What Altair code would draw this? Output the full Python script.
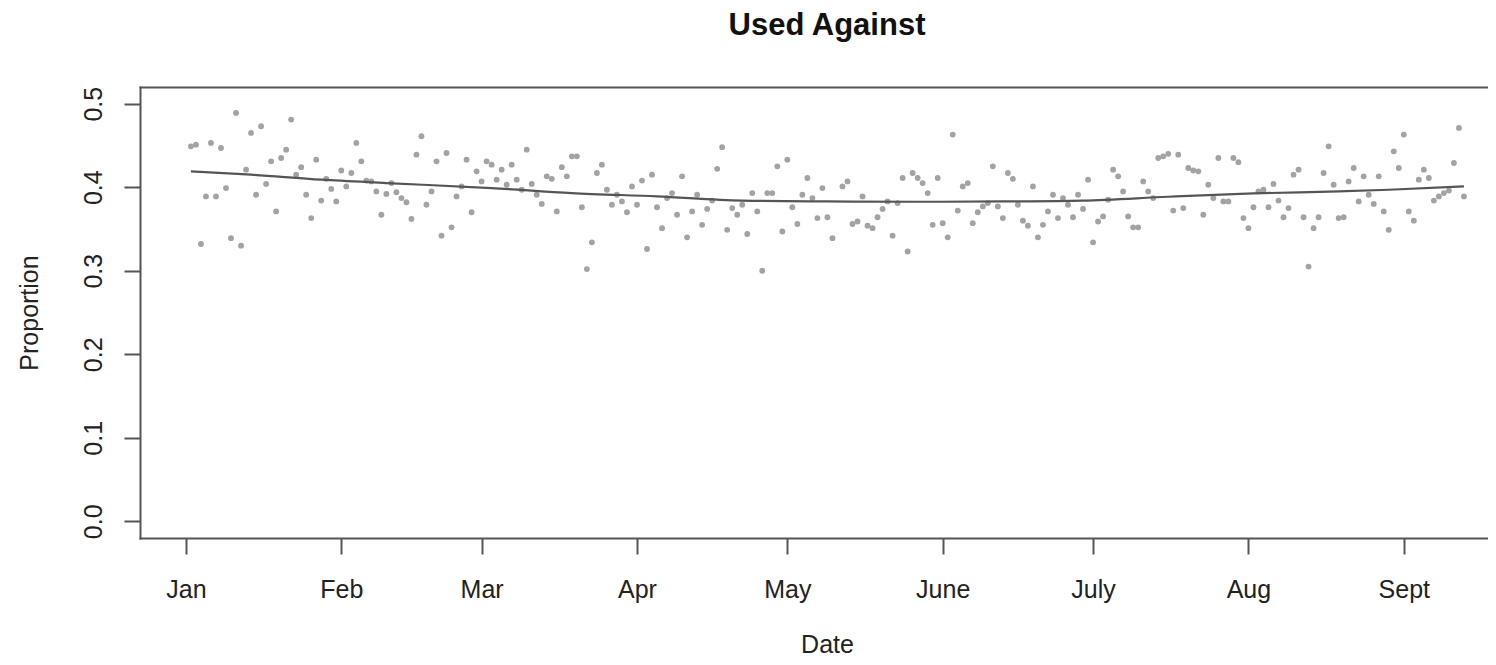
import altair as alt
import pandas as pd

# Days since Jan 1 (0 = Jan 1) and daily proportion
days = [1, 2, 3, 4, 5, 6, 7, 8, 9, 10, 11, 12, 13, 14, 15, 16, 17, 18, 19, 20,
        21, 22, 23, 24, 25, 26, 27, 28, 29, 30, 31, 32, 33, 34, 35, 36, 37, 38, 39, 40,
        41, 42, 43, 44, 45, 46, 47, 48, 49, 50, 51, 52, 53, 54, 55, 56, 57, 58, 59, 60,
        61, 62, 63, 64, 65, 66, 67, 68, 69, 70, 71, 72, 73, 74, 75, 76, 77, 78, 79, 80,
        81, 82, 83, 84, 85, 86, 87, 88, 89, 90, 91, 92, 93, 94, 95, 96, 97, 98, 99, 100,
        101, 102, 103, 104, 105, 106, 107, 108, 109, 110, 111, 112, 113, 114, 115, 116, 117, 118, 119, 120,
        121, 122, 123, 124, 125, 126, 127, 128, 129, 131, 132, 133, 134, 135, 136, 137, 138, 139, 140,
        141, 142, 143, 144, 145, 146, 147, 148, 149, 150, 151, 152, 153, 154, 155, 156, 157, 158, 159, 160,
        161, 162, 163, 164, 165, 166, 167, 168, 169, 170, 171, 172, 173, 174, 175, 176, 177, 178, 179, 180,
        181, 182, 183, 184, 185, 186, 187, 188, 189, 190, 191, 192, 193, 194, 195, 196, 197, 198, 199, 200,
        201, 202, 203, 204, 205, 206, 207, 208, 209, 210, 211, 212, 213, 214, 215, 216, 217, 218, 219, 220,
        221, 222, 223, 224, 225, 226, 227, 228, 229, 230, 231, 232, 233, 234, 235, 236, 237, 238, 239, 240,
        241, 242, 243, 244, 245, 246, 247, 248, 249, 250, 251, 252, 253, 254, 255]

proportion = [0.449, 0.451, 0.332, 0.389, 0.453, 0.389, 0.447, 0.399, 0.339, 0.489,
              0.330, 0.421, 0.465, 0.391, 0.473, 0.404, 0.431, 0.371, 0.435, 0.445,
              0.481, 0.415, 0.424, 0.391, 0.363, 0.433, 0.384, 0.410, 0.398, 0.383,
              0.420, 0.401, 0.417, 0.453, 0.431, 0.408, 0.407, 0.395, 0.367, 0.392,
              0.405, 0.394, 0.387, 0.382, 0.362, 0.439, 0.461, 0.379, 0.395, 0.431,
              0.342, 0.441, 0.352, 0.389, 0.401, 0.433, 0.370, 0.419, 0.407, 0.431,
              0.427, 0.409, 0.421, 0.403, 0.427, 0.409, 0.397, 0.445, 0.404, 0.391,
              0.380, 0.413, 0.410, 0.371, 0.424, 0.413, 0.437, 0.437, 0.376, 0.302,
              0.334, 0.417, 0.427, 0.397, 0.379, 0.391, 0.383, 0.370, 0.401, 0.379,
              0.408, 0.326, 0.415, 0.376, 0.351, 0.387, 0.393, 0.367, 0.413, 0.340,
              0.371, 0.391, 0.355, 0.374, 0.384, 0.422, 0.448, 0.349, 0.375, 0.367,
              0.379, 0.344, 0.393, 0.371, 0.300, 0.393, 0.393, 0.425, 0.347, 0.433,
              0.376, 0.356, 0.391, 0.411, 0.387, 0.363, 0.399, 0.364, 0.339, 0.401,
              0.407, 0.356, 0.359, 0.389, 0.354, 0.351, 0.364, 0.374, 0.383,
              0.342, 0.381, 0.411, 0.323, 0.417, 0.411, 0.405, 0.393, 0.355, 0.411,
              0.357, 0.340, 0.463, 0.372, 0.401, 0.405, 0.357, 0.370, 0.377, 0.381,
              0.425, 0.377, 0.363, 0.417, 0.410, 0.379, 0.360, 0.354, 0.401, 0.340,
              0.355, 0.371, 0.391, 0.363, 0.387, 0.379, 0.364, 0.391, 0.374, 0.409,
              0.334, 0.359, 0.365, 0.385, 0.421, 0.413, 0.395, 0.365, 0.352, 0.352,
              0.407, 0.395, 0.387, 0.435, 0.437, 0.440, 0.372, 0.439, 0.375, 0.423,
              0.420, 0.419, 0.367, 0.403, 0.387, 0.435, 0.383, 0.383, 0.435, 0.430,
              0.363, 0.351, 0.376, 0.395, 0.397, 0.376, 0.404, 0.384, 0.364, 0.375,
              0.415, 0.421, 0.364, 0.305, 0.351, 0.364, 0.417, 0.449, 0.403, 0.363,
              0.364, 0.407, 0.423, 0.383, 0.413, 0.391, 0.380, 0.413, 0.371, 0.349,
              0.443, 0.423, 0.463, 0.371, 0.360, 0.409, 0.421, 0.411, 0.384, 0.389,
              0.393, 0.396, 0.429, 0.471, 0.389]

# Smoothed trend line
trend_days = [1, 13, 27, 40, 61, 77, 94, 111, 128, 146, 163, 179, 196, 213, 230, 240, 255]
trend_values = [0.419, 0.415, 0.409, 0.405, 0.399, 0.393, 0.389, 0.384, 0.383, 0.3826,
                0.383, 0.384, 0.3886, 0.3926, 0.395, 0.397, 0.401]

# Month ticks
month_ticks = [0, 31, 59, 90, 120, 151, 181, 212, 243]
month_labels = ["Jan", "Feb", "Mar", "Apr", "May", "June", "July", "Aug", "Sept"]

y_ticks = [0.0, 0.1, 0.2, 0.3, 0.4, 0.5]

pts = pd.DataFrame({"day": days, "proportion": proportion})
trend = pd.DataFrame({"day": trend_days, "proportion": trend_values})

label_expr = "''"
for t, l in zip(reversed(month_ticks), reversed(month_labels)):
    label_expr = f"datum.value == {t} ? '{l}' : ({label_expr})"

FONT = "Liberation Sans"
TXT = "#222222"
AX = "#555555"

X_DOMAIN = [-9.16, 259.8]
y_scale = alt.Scale(domain=[-0.02, 0.52], nice=False, zero=False)

x_axis = alt.Axis(
    orient="bottom", title="Date", values=month_ticks, labelExpr=label_expr, grid=False,
    domain=True, domainColor=AX, domainWidth=2, domainCap="square",
    tickSize=16, tickWidth=2, tickColor=AX, labelFontSize=25, labelFont=FONT,
    labelColor=TXT, labelBaseline="alphabetic", labelPadding=43, labelFlush=False,
    titleFontSize=25, titleFont=FONT, titleFontWeight="normal", titleColor=TXT,
    titleBaseline="alphabetic", titleY=114, titleX=687,
)
x_top_axis = alt.Axis(
    orient="top", title=None, labels=False, ticks=False, grid=False,
    domain=True, domainColor=AX, domainWidth=2, domainCap="square",
)
y_axis = alt.Axis(
    title="Proportion", values=y_ticks, format=".1f", grid=False,
    domain=True, domainColor=AX, domainWidth=2, domainCap="square",
    tickSize=16, tickWidth=2, tickColor=AX, labelFontSize=25, labelFont=FONT,
    labelColor=TXT, labelAngle=-90, labelAlign="center", labelBaseline="alphabetic",
    labelPadding=23, labelFlush=False,
    titleFontSize=25, titleFont=FONT, titleFontWeight="normal", titleColor=TXT,
    titleAngle=-90, titleAlign="center", titleBaseline="alphabetic",
    titleX=-103, titleY=225.5,
)

points = alt.Chart(pts).mark_circle(size=34, color="#a3a3a3", opacity=1).encode(
    x=alt.X("day:Q", scale=alt.Scale(domain=X_DOMAIN, nice=False, zero=False), axis=x_axis),
    y=alt.Y("proportion:Q", scale=y_scale, axis=y_axis),
)

line = alt.Chart(trend).mark_line(color="#555555", strokeWidth=2.2, interpolate="monotone").encode(
    x=alt.X("day:Q", scale=alt.Scale(domain=X_DOMAIN, nice=False, zero=False), axis=x_top_axis),
    y=alt.Y("proportion:Q", scale=y_scale),
)

chart = alt.layer(points, line).resolve_scale(x="independent").properties(
    width=1348,
    height=451,
    title=alt.TitleParams(
        text="Used Against", fontSize=31, fontWeight="bold", font=FONT, color="#111111",
        anchor="middle", baseline="alphabetic", offset=20, frame="group", dx=13,
    ),
    autosize=alt.AutoSizeParams(type="none"),
    padding={"left": 132, "top": 79, "right": 0, "bottom": 121},
).configure_view(
    stroke=None, fill="white",
).configure(background="white")

chart.save("out.html", embed_options={"renderer": "svg", "actions": False})
